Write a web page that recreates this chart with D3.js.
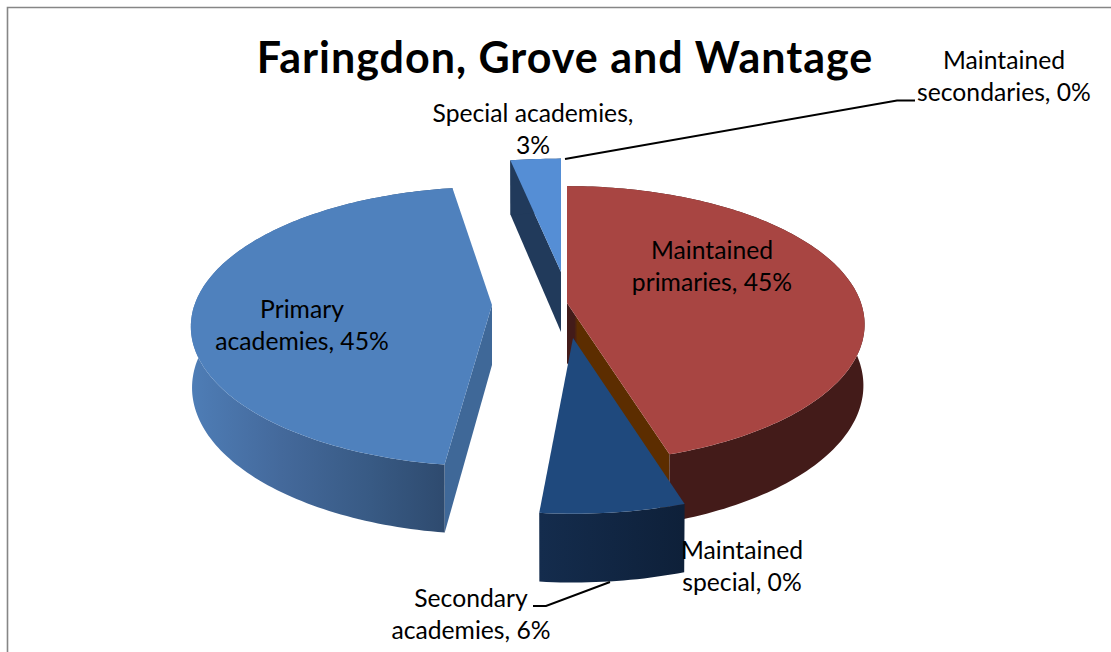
<!DOCTYPE html>
<html><head><meta charset="utf-8">
<script src="https://cdnjs.cloudflare.com/ajax/libs/d3/7.8.5/d3.min.js"></script>
<style>html,body{margin:0;padding:0;background:#fff}svg{display:block}text{font-family:Lato,Carlito,"Open Sans",sans-serif;fill:#000}</style>
</head><body><svg id="c" width="1111" height="652"></svg>
<script>
const chartTitle = "Faringdon, Grove and Wantage";
const categories = ["Maintained primaries","Maintained special","Secondary academies","Primary academies","Special academies","Maintained secondaries"];
const shares = [45.2, 0, 6.4, 45.4, 3.0, 0];
const labelFirstLines = ["Maintained","Maintained","Secondary","Primary","Special academies,","Maintained"];
const labelSecondLines = ["primaries,","special,","academies,","academies,","","secondaries,"];
const topColors = ["#A84542","#7F3F00","#1F497D","#4F81BD","#558ED5","#8EB4E3"];
const sideColors = ["#431B19","#5C2D00","#13294A","#3F6898","#213A5B","#4F81BD"];

// Layout of the exploded 3D pie
const layout = [
  {cx:567, cy:303, sx:1, sy:1, turn:0},
  {cx:567, cy:303, sx:1, sy:1, turn:0},
  {cx:573, cy:338, sx:1.06, sy:1.10, turn:-0.5},
  {cx:492, cy:305, sx:1.012, sy:1.01, turn:2},
  {cx:561, cy:272, sx:1.06, sy:.97, turn:0},
  {cx:565, cy:272, sx:1, sy:.97, turn:0}
];
const labelPos = [[712,259],[742,559],[471,607],[302,318],[533,122],[1004,69]];
const R = 294, H = 135, persp = 0.155, depth = 60, bx = 0.996, by = 1.05;

const svg = d3.select("#c");
const defs = svg.append("defs");
const mkGrad = (id, x1, x2, stops) => {
  const g = defs.append("linearGradient").attr("id",id).attr("gradientUnits","userSpaceOnUse")
    .attr("x1",x1).attr("x2",x2).attr("y1",0).attr("y2",0);
  stops.forEach(s => g.append("stop").attr("offset",s[0]).attr("stop-color",s[1]));
};
mkGrad("wallPrimary",192,447,[[0,"#4E7DB6"],[0.35,"#44699B"],[0.7,"#385A84"],[1,"#2E4A6E"]]);
mkGrad("wallSecondary",540,684,[[0,"#142C4D"],[1,"#0E2039"]]);
mkGrad("faceRed",567,672,[[0,"#431B19"],[0.07,"#431B19"],[0.1,"#5C2D00"],[1,"#5C2D00"]]);

const pie = d3.pie().sort(null).value(d => d);
const arcs = pie(shares);
const scaleU = d3.scaleLinear().domain([-1,1]).range([-R,R]);
const scaleV = d3.scaleLinear().domain([-1,1]).range([-H,H]);
const line = d3.line();

function project(i, a, r, bottom){
  const L = layout[i];
  const t = a + L.turn*Math.PI/180;
  const u = Math.sin(t)*r, v = -Math.cos(t)*r;
  const s = 1/(1 - persp*v);
  const kx = bottom ? bx : 1, ky = bottom ? by : 1;
  return [L.cx + scaleU(u)*s*L.sx*kx, L.cy + scaleV(v)*s*L.sy*ky + (bottom?depth:0)];
}
function arcPts(i, a0, a1, bottom){
  const n = Math.max(2, Math.ceil((a1-a0)/0.02));
  return d3.range(n+1).map(k => project(i, a0+(a1-a0)*k/n, 1, bottom));
}
const wallFill = {2:"url(#wallSecondary)",3:"url(#wallPrimary)"};
const faceFill = {0:"url(#faceRed)"};
const drawOrder = [4,5,0,1,3,2];

const g = svg.append("g");
drawOrder.forEach(i => {
  const d = arcs[i];
  if (d.endAngle - d.startAngle <= 0) return;
  const a0 = d.startAngle, a1 = d.endAngle;
  const radial = a => [project(i,0,0,false), project(i,a,1,false), project(i,a,1,true), project(i,0,0,true)];
  if (Math.sin(a0) < 0)
    g.append("path").attr("d",line(radial(a0))+"Z").attr("fill",faceFill[i]||sideColors[i]);
  if (Math.sin(a1) > 0)
    g.append("path").attr("d",line(radial(a1))+"Z").attr("fill",faceFill[i]||sideColors[i]);
  const wall = arcPts(i,a0,a1,false).concat(arcPts(i,a0,a1,true).reverse());
  g.append("path").attr("d",line(wall)+"Z").attr("fill",wallFill[i]||sideColors[i]);
  const top = [project(i,0,0,false)].concat(arcPts(i,a0,a1,false));
  g.append("path").attr("d",line(top)+"Z").attr("fill",topColors[i]);
});

// Frame
svg.append("path").attr("d","M7.5,652V7.5H1111").attr("fill","none").attr("stroke","#868686").attr("stroke-width",1.6);

// Leader lines
const leaders = [
  [[565,159],[897,100.5],[915,100.5]],
  [[610,582],[546,606],[533,606]]
];
leaders.forEach(p => svg.append("path").attr("d",line(p)).attr("fill","none").attr("stroke","#000").attr("stroke-width",2));

// Title
svg.append("text").attr("x",565).attr("y",73).attr("text-anchor","middle")
  .attr("font-size",43).attr("letter-spacing",1).attr("font-weight",700).text(chartTitle);

// Labels
categories.forEach((c,i) => {
  const pct = Math.round(shares[i]) + "%";
  const [x,y] = labelPos[i];
  const l2 = labelSecondLines[i] ? labelSecondLines[i] + " " + pct : pct;
  const t = svg.append("text").attr("text-anchor","middle").attr("font-size",24.7);
  t.append("tspan").attr("x",x).attr("y",y).text(labelFirstLines[i]);
  t.append("tspan").attr("x",x).attr("y",y+31.5).text(l2);
});
</script></body></html>
